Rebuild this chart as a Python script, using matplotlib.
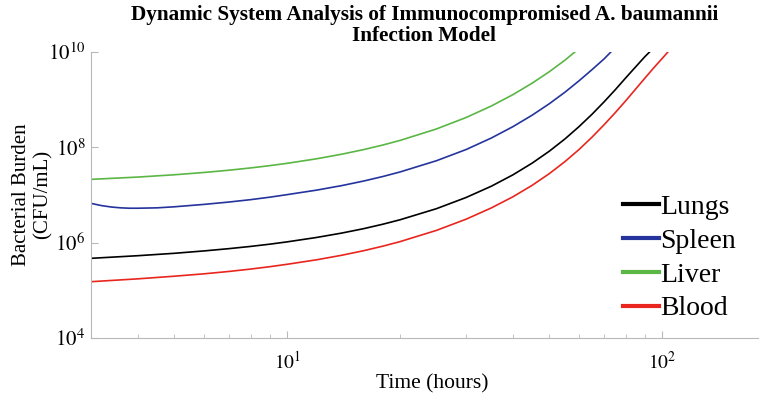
import matplotlib
matplotlib.use("Agg")
import matplotlib.pyplot as plt
import numpy as np

plt.rcParams['font.family'] = ['Liberation Serif', 'DejaVu Serif']
plt.rcParams['mathtext.fontset'] = 'stix'

# Time (hours) and log10 bacterial burden (CFU/mL)
t_lungs = [3, 4, 5, 6, 7, 8, 9, 10, 12, 14, 16, 18, 20, 25, 30, 35, 40, 45, 50,
           55, 60, 65, 70, 75, 80, 85, 90, 93.5]
lungs = [5.670, 5.725, 5.775, 5.825, 5.873, 5.920, 5.967, 6.015, 6.108, 6.200,
         6.292, 6.385, 6.478, 6.710, 6.945, 7.180, 7.420, 7.665, 7.915,
         8.170, 8.430, 8.690, 8.950, 9.205, 9.455, 9.685, 9.900, 10.03]

t_spleen = [3, 3.2, 3.4, 3.6, 3.8, 4, 4.5, 5, 6, 7, 8, 9, 10, 12, 14, 16, 18, 20,
            25, 30, 35, 40, 45, 50, 55, 60, 65, 70, 73.5]
spleen = [6.822, 6.775, 6.745, 6.728, 6.720, 6.720, 6.728, 6.750, 6.800, 6.850,
          6.900, 6.952, 7.005, 7.100, 7.195, 7.290, 7.385, 7.480,
          7.715, 7.950, 8.190, 8.430, 8.670, 8.910, 9.150, 9.390, 9.625, 9.850, 10.02]

t_liver = [3, 4, 5, 6, 7, 8, 9, 10, 12, 14, 16, 18, 20, 25, 30, 35, 40, 45, 50, 55, 58.8]
liver = [7.325, 7.373, 7.421, 7.469, 7.517, 7.565, 7.613, 7.661, 7.757, 7.853,
         7.949, 8.045, 8.141, 8.381, 8.621, 8.861, 9.101, 9.341, 9.581, 9.821, 10.01]

t_blood = [3, 4, 5, 6, 7, 8, 9, 10, 12, 14, 16, 18, 20, 25, 30, 35, 40, 45, 50,
           55, 60, 65, 70, 75, 80, 85, 90, 95, 100, 104.5]
blood = [5.180, 5.240, 5.295, 5.345, 5.395, 5.445, 5.495, 5.545, 5.640, 5.735,
         5.830, 5.925, 6.020, 6.255, 6.490, 6.725, 6.960, 7.200, 7.445,
         7.695, 7.950, 8.210, 8.470, 8.725, 8.975, 9.220, 9.450, 9.665, 9.860, 10.03]

series_names = ['Lungs', 'Spleen', 'Liver', 'Blood']
colors = ['#000000', '#24349c', '#5ab645', '#e8261e']

fig = plt.figure(figsize=(7.61, 4.01), dpi=100)
ax = fig.add_axes([0.1196, 0.1571, 0.8764, 0.7139])

data = [(t_lungs, lungs), (t_spleen, spleen), (t_liver, liver), (t_blood, blood)]
for (t, v), name, c in zip(data, series_names, colors):
    ax.plot(t, 10 ** np.array(v), color=c, lw=1.2, label=name)

ax.set_xscale('log')
ax.set_yscale('log')
ax.set_xlim(3, 180)
ax.set_ylim(1e4, 1e10)
ax.set_yticks([1e4, 1e6, 1e8, 1e10])
ax.set_yticklabels([r'$10^{4}$', r'$10^{6}$', r'$10^{8}$', r'$10^{10}$'])
ax.yaxis.set_minor_locator(matplotlib.ticker.NullLocator())
ax.set_xticks([10, 100])
ax.set_xticklabels([r'$10^{1}$', r'$10^{2}$'])

for s in ['top', 'right']:
    ax.spines[s].set_visible(False)
for s in ['left', 'bottom']:
    ax.spines[s].set_color('#b8b8b8')
    ax.spines[s].set_linewidth(0.8)
ax.tick_params(which='both', direction='in', color='#b8b8b8', labelcolor='black')
ax.tick_params(axis='y', which='major', length=5, labelsize=15, pad=4)
ax.tick_params(axis='x', which='major', length=5, labelsize=14, pad=9)
ax.tick_params(axis='x', which='minor', length=3)

ax.set_xlabel('Time (hours)', fontsize=15.5)
ax.xaxis.set_label_coords(0.511, -0.125)
ax.set_ylabel('Bacterial Burden\n(CFU/mL)', fontsize=15, labelpad=-3, linespacing=1.1)
ax.set_title('Dynamic System Analysis of Immunocompromised A. baumannii\nInfection Model',
             fontsize=15.3, fontweight='bold', linespacing=1.12, pad=7.5)

leg = ax.legend(loc='center left', bbox_to_anchor=(0.797, 0.2795), frameon=False, fontsize=20,
                handlelength=1.3, handletextpad=0.05, labelspacing=0.30,
                borderaxespad=0, borderpad=0)
for h in leg.legend_handles:
    h.set_linewidth(3)

fig.savefig('out.png', dpi=100)
